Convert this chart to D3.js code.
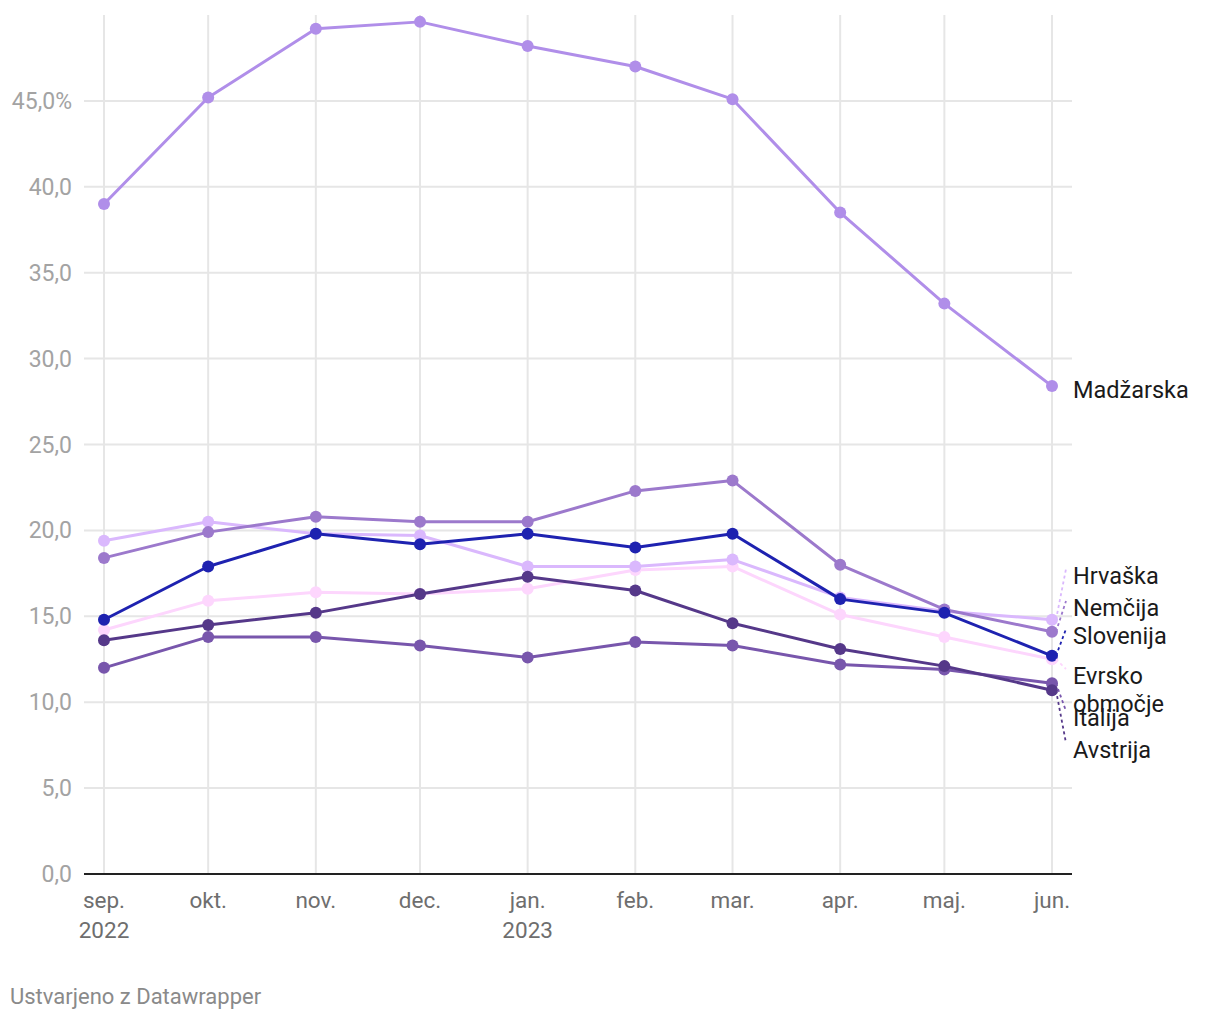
<!DOCTYPE html>
<html>
<head>
<meta charset="utf-8">
<script src="https://cdn.jsdelivr.net/npm/d3@7"></script>
<style>
  html, body { margin: 0; padding: 0; background: #fff; }
  svg { display: block; font-family: Roboto, "Noto Sans", sans-serif; }
</style>
</head>
<body>
<svg id="chart" width="1220" height="1020"></svg>
<script>
// ---- data ----
const months = ["2022-09-01","2022-10-01","2022-11-01","2022-12-01","2023-01-01","2023-02-01","2023-03-01","2023-04-01","2023-05-01","2023-06-01"];
const monthLabels = ["sep.","okt.","nov.","dec.","jan.","feb.","mar.","apr.","maj.","jun."];
const yearLabels = ["2022","","","","2023","","","","",""];
const yTicks = [0,5,10,15,20,25,30,35,40,45];

const madzarska = [39.0,45.2,49.2,49.6,48.2,47.0,45.1,38.5,33.2,28.4];
const hrvaska   = [19.4,20.5,19.8,19.7,17.9,17.9,18.3,16.1,15.3,14.8];
const nemcija   = [18.4,19.9,20.8,20.5,20.5,22.3,22.9,18.0,15.4,14.1];
const slovenija = [14.8,17.9,19.8,19.2,19.8,19.0,19.8,16.0,15.2,12.7];
const evrsko    = [14.2,15.9,16.4,16.3,16.6,17.7,17.9,15.1,13.8,12.5];
const italija   = [12.0,13.8,13.8,13.3,12.6,13.5,13.3,12.2,11.9,11.1];
const avstrija  = [13.6,14.5,15.2,16.3,17.3,16.5,14.6,13.1,12.1,10.7];

const seriesNames = ["Evrsko območje","Hrvaška","Nemčija","Italija","Avstrija","Slovenija","Madžarska"];
const seriesValues = [evrsko, hrvaska, nemcija, italija, avstrija, slovenija, madzarska];
const seriesColors = ["#fdd6fd","#dab8fd","#9c79cc","#7856ac","#553889","#1e22b0","#b08ee9"];

// ---- layout ----
const parse = d3.timeParse("%Y-%m-%d");
const dates = months.map(parse);
const x = d3.scaleTime().domain([dates[0], dates[dates.length-1]]).range([104, 1052]);
const y = d3.scaleLinear().domain([0, 50]).range([874, 15]);
const gridLeft = 84, gridRight = 1072;
// label vertical placement (pixels) after collision avoidance
const labelPos = {"Madžarska":390,"Hrvaška":576,"Nemčija":608,"Slovenija":636,"Evrsko območje":676,"Italija":718,"Avstrija":750};

const svg = d3.select("#chart");

// vertical gridlines
svg.append("g").selectAll("line").data(dates).join("line")
  .attr("x1", d => x(d)).attr("x2", d => x(d))
  .attr("y1", y(50)).attr("y2", y(0))
  .attr("stroke", "#e6e6e6").attr("stroke-width", 2);

// horizontal gridlines
svg.append("g").selectAll("line").data(yTicks.filter(t => t > 0)).join("line")
  .attr("x1", gridLeft).attr("x2", gridRight)
  .attr("y1", d => y(d)).attr("y2", d => y(d))
  .attr("stroke", "#e6e6e6").attr("stroke-width", 2);

// y labels
svg.append("g").selectAll("text").data(yTicks).join("text")
  .attr("x", 72).attr("y", d => y(d))
  .attr("dy", "0.35em")
  .attr("text-anchor", "end")
  .attr("fill", "#a3a3a3")
  .style("font-size", "23px")
  .text(d => d3.format(".1f")(d).replace(".", ",") + (d === 45 ? "%" : ""));

// zero baseline
svg.append("line")
  .attr("x1", gridLeft).attr("x2", gridRight)
  .attr("y1", y(0)).attr("y2", y(0))
  .attr("stroke", "#222").attr("stroke-width", 2);

// x labels
const xl = svg.append("g").selectAll("text").data(dates).join("text")
  .attr("x", d => x(d)).attr("y", 908)
  .attr("text-anchor", "middle")
  .attr("fill", "#6e6e6e")
  .style("font-size", "22.5px");
xl.append("tspan").attr("x", d => x(d)).text((d,i) => monthLabels[i]);
xl.append("tspan").attr("x", d => x(d)).attr("dy", 30).text((d,i) => yearLabels[i]);

// lines and dots
const line = d3.line().x((d,i) => x(dates[i])).y(d => y(d));
seriesValues.forEach((vals, si) => {
  const g = svg.append("g");
  g.append("path").datum(vals)
    .attr("d", line)
    .attr("fill", "none")
    .attr("stroke", seriesColors[si])
    .attr("stroke-width", 3)
    .attr("stroke-linejoin", "round");
  g.selectAll("circle").data(vals).join("circle")
    .attr("cx", (d,i) => x(dates[i]))
    .attr("cy", d => y(d))
    .attr("r", 6)
    .attr("fill", seriesColors[si]);
});

// labels with connectors
const last = dates.length - 1;
seriesNames.forEach((name, si) => {
  const v = seriesValues[si][last];
  const ly = labelPos[name];
  const px = x(dates[last]), py = y(v);
  if (name !== "Madžarska") {
    svg.append("line")
      .attr("x1", px + 4).attr("y1", py)
      .attr("x2", px + 14).attr("y2", ly - 7)
      .attr("stroke", seriesColors[si])
      .attr("stroke-width", 1.8)
      .attr("stroke-dasharray", "3,3");
  }
  const t = svg.append("text")
    .attr("x", 1073).attr("y", ly)
    .attr("dy", "0.35em")
    .attr("fill", "#1a1a1a")
    .style("font-size", "23.5px");
  const parts = name.split(" ");
  if (parts.length > 1) {
    t.append("tspan").attr("x", 1073).text(parts[0]);
    t.append("tspan").attr("x", 1073).attr("dy", 28).text(parts.slice(1).join(" "));
  } else {
    t.text(name);
  }
});

// footer
svg.append("text")
  .attr("x", 10).attr("y", 1004)
  .attr("fill", "#8a8a8a")
  .style("font-size", "22px")
  .text("Ustvarjeno z Datawrapper");
</script>
</body>
</html>
